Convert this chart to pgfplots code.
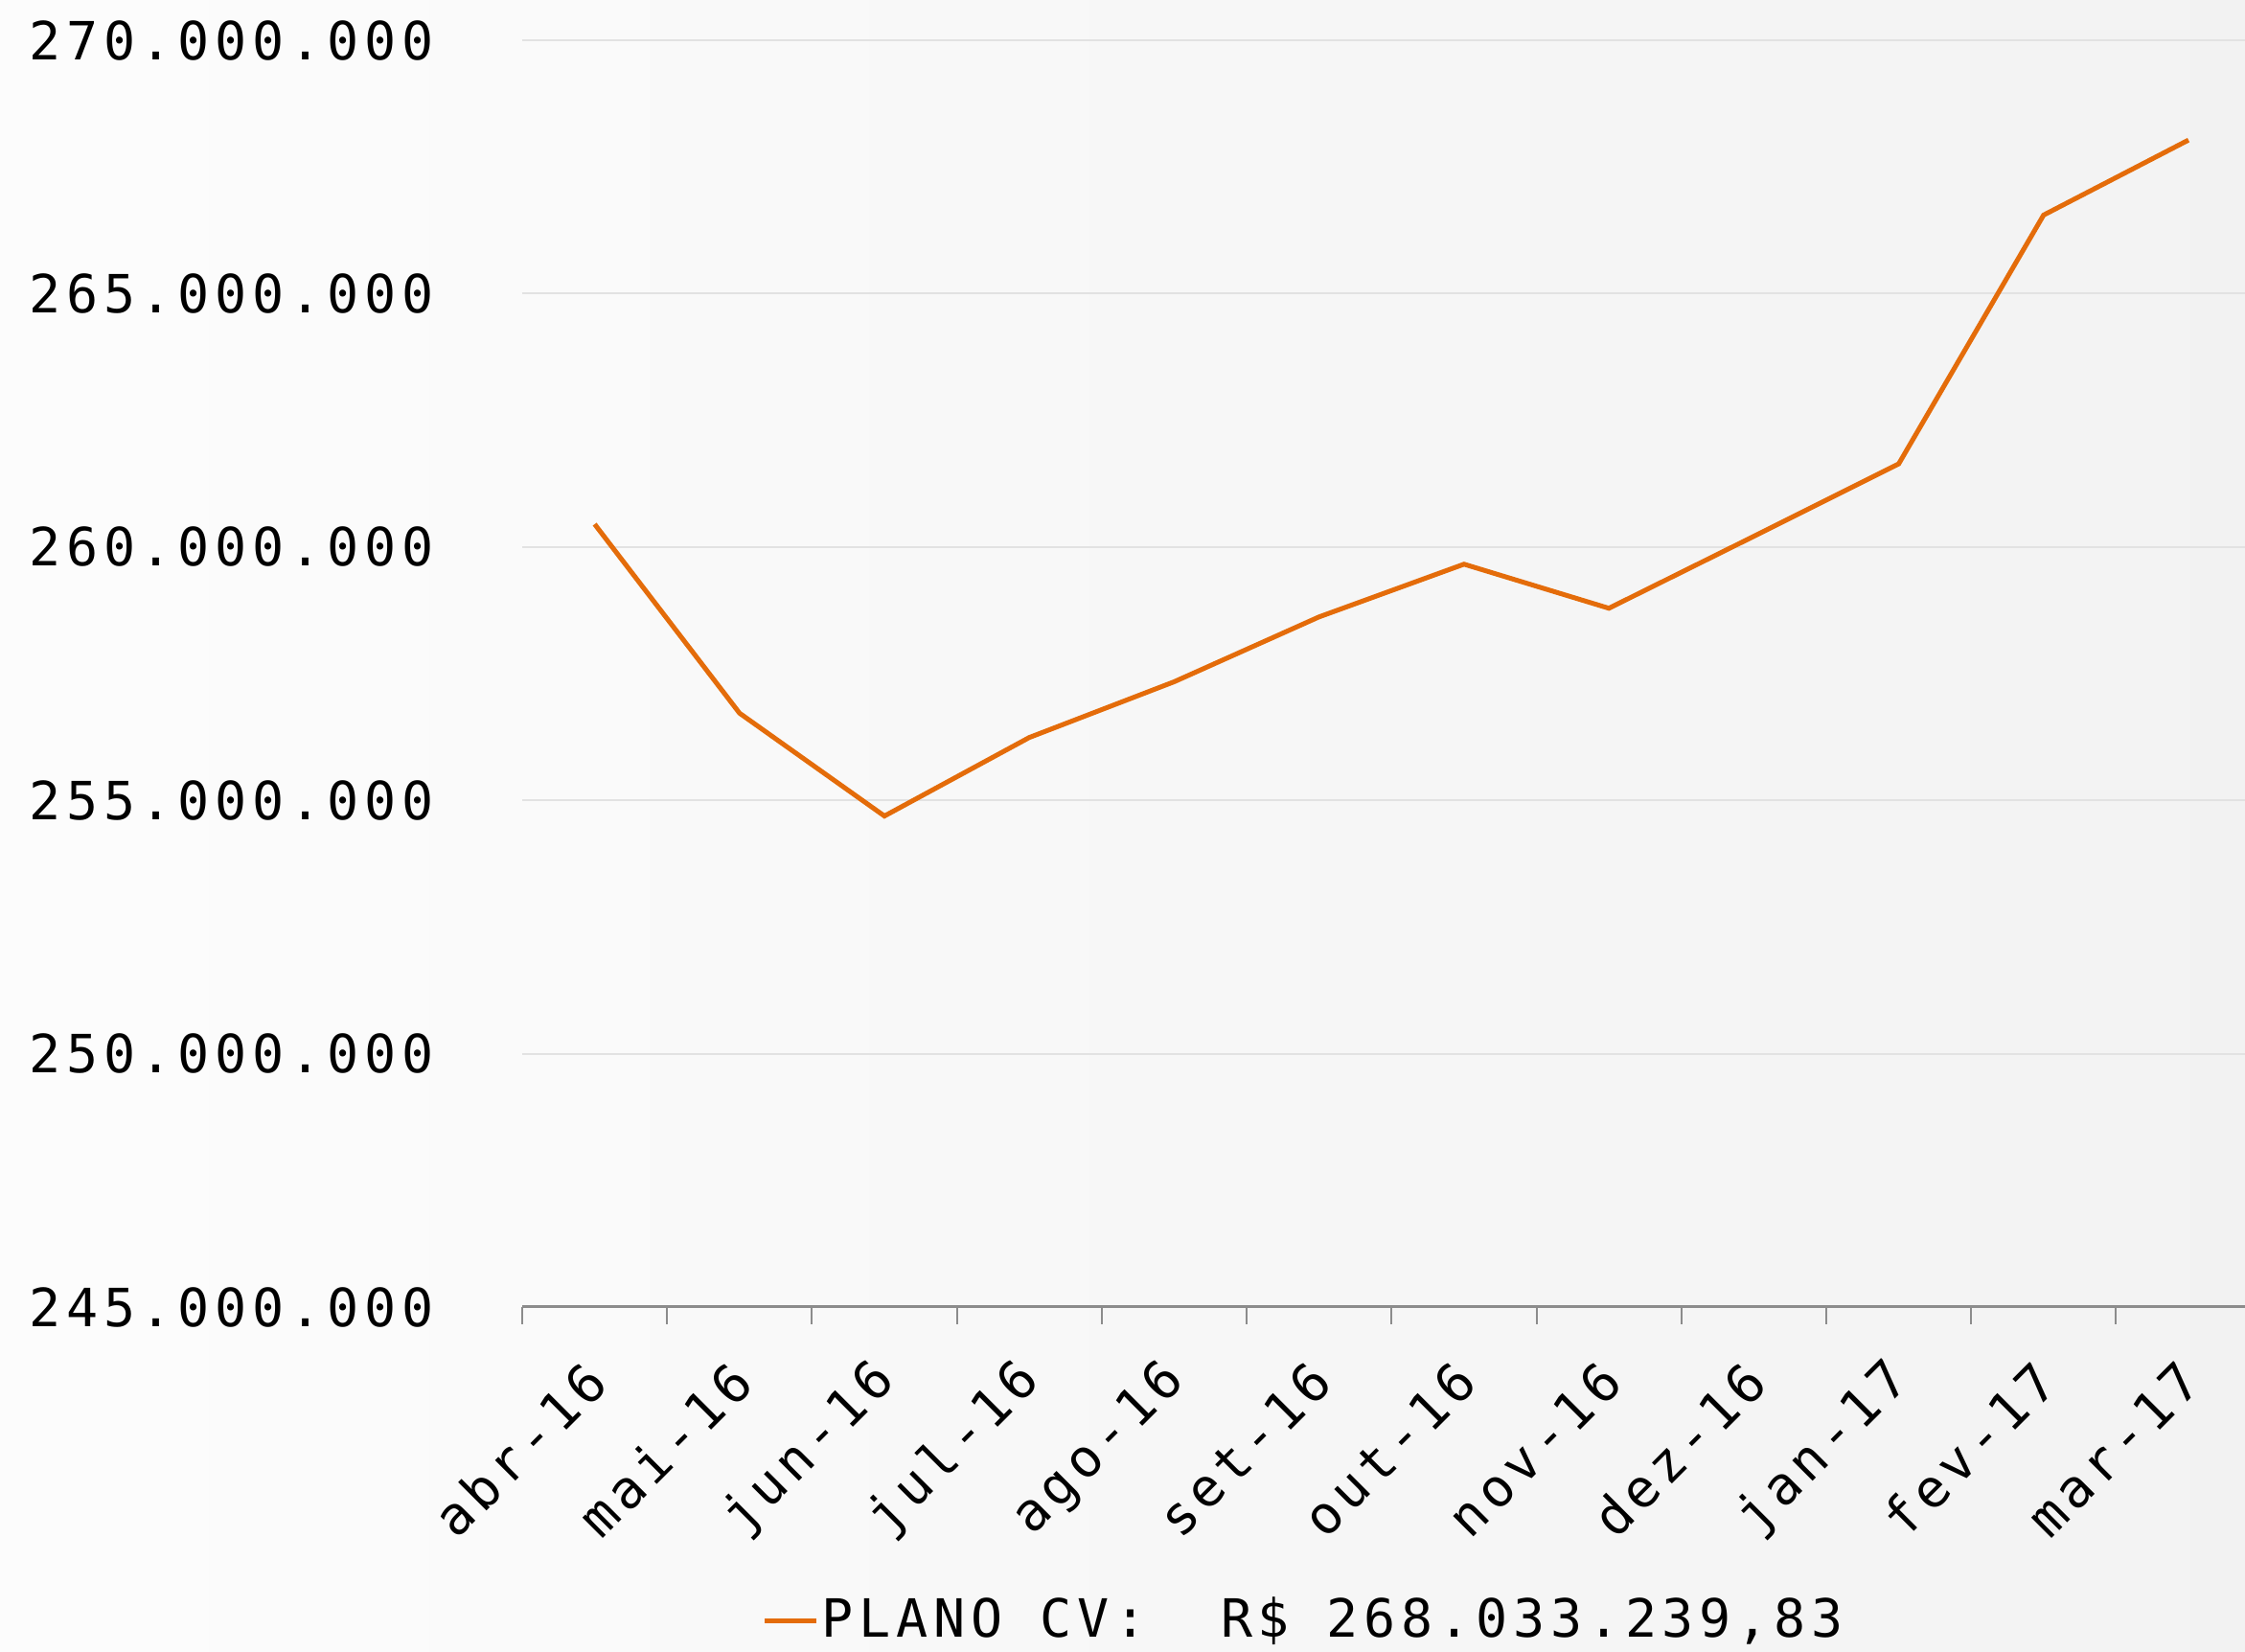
\documentclass[border=0pt]{standalone}
\usepackage{fontspec}
\setmonofont{DejaVu Sans Mono}[LetterSpace=10.5]
\usepackage{pgfplots}
\pgfplotsset{compat=1.18}
\usetikzlibrary{backgrounds}

\definecolor{plano}{HTML}{E46C0A}
\definecolor{gridc}{HTML}{E2E2E2}
\definecolor{axisc}{HTML}{8C8C8C}

\newcommand{\lcd}{\ttfamily\fontsize{11}{13}\selectfont}

\begin{document}
\begin{tikzpicture}
\begin{axis}[
  scale only axis,
  width=359.6pt, height=264.4pt,
  xmin=-0.5, xmax=11.39,
  ymin=245, ymax=270,
  axis x line*=bottom, axis y line*=left,
  y axis line style={draw=none},
  x axis line style={draw=axisc, line width=0.6pt},
  xtick={0,...,11},
  xticklabels={abr-16,mai-16,jun-16,jul-16,ago-16,set-16,out-16,nov-16,dez-16,jan-17,fev-17,mar-17},
  minor xtick={-0.5,0.5,...,11.5},
  major tick length=0pt,
  minor tick length=3.6pt,
  tick align=outside,
  minor x tick style={draw=axisc, line width=0.4pt},
  ytick={245,250,255,260,265,270},
  yticklabels={245.000.000,250.000.000,255.000.000,260.000.000,265.000.000,270.000.000},
  ymajorgrids,
  major grid style={draw=gridc, line width=0.4pt},
  ticklabel style={font=\lcd},
  yticklabel style={xshift=-15pt},
  xticklabel style={rotate=45, anchor=east, yshift=-10pt, xshift=-5.8pt},
  legend style={at={(axis description cs:0.454,-0.248)}, anchor=center,
    draw=none, fill=none, font=\lcd, inner sep=0pt, nodes={inner sep=0.6pt}},
  legend image code/.code={\draw[#1] (0pt,0pt) -- (10.8pt,0pt);},
]
\addplot[plano, line width=1pt] coordinates {
  (0,260.45) (1,256.72) (2,254.69) (3,256.24) (4,257.34) (5,258.62)
  (6,259.66) (7,258.79) (8,260.21) (9,261.64) (10,266.55) (11,268.03)
};
\addlegendentry{PLANO CV:\ \ R\$ 268.033.239,83}
\end{axis}
\pgfresetboundingbox
\path[use as bounding box] (-109pt,-72pt) rectangle (359.6pt,272.8pt);
\begin{scope}[on background layer]
\fill[left color=white!99!black, right color=white!95!black] (-109pt,-72pt) rectangle (359.6pt,272.8pt);
\end{scope}
\end{tikzpicture}
\end{document}
